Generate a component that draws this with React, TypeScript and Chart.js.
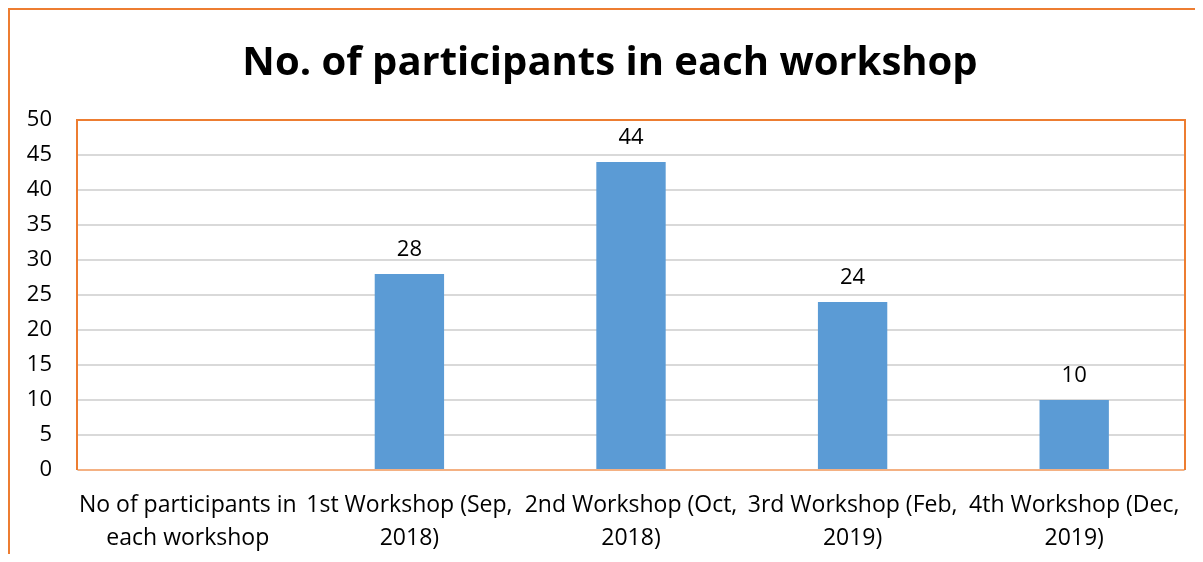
import React, { useEffect, useRef } from "react";
import { Chart, registerables } from "chart.js";

Chart.register(...registerables);

const categories: string[][] = [
  ["No of participants in", "each workshop"],
  ["1st Workshop (Sep,", "2018)"],
  ["2nd Workshop (Oct,", "2018)"],
  ["3rd Workshop (Feb,", "2019)"],
  ["4th Workshop (Dec,", "2019)"],
];
const participants: (number | null)[] = [null, 28, 44, 24, 10];
const titleText = "No. of participants in each workshop";

const ORANGE = "#ED7D31";
const BAR = "#5B9BD5";
const FONT = "'Open Sans', Lato, sans-serif";

const decorPlugin = {
  id: "decor",
  afterDraw(chart: any) {
    const { ctx, chartArea } = chart;
    const { left, top, right, bottom } = chartArea;
    ctx.save();
    ctx.strokeStyle = ORANGE;
    ctx.lineWidth = 2;
    ctx.beginPath();
    ctx.moveTo(1, chart.height);
    ctx.lineTo(1, 1);
    ctx.lineTo(chart.width, 1);
    ctx.stroke();
    ctx.beginPath();
    ctx.moveTo(left, bottom);
    ctx.lineTo(left, top);
    ctx.lineTo(right, top);
    ctx.lineTo(right, bottom);
    ctx.stroke();
    ctx.strokeStyle = "#F4B183";
    ctx.beginPath();
    ctx.moveTo(left + 1, bottom);
    ctx.lineTo(right - 1, bottom);
    ctx.stroke();
    // title
    ctx.fillStyle = "#000";
    ctx.font = `bold 40px ${FONT}`;
    ctx.textAlign = "center";
    ctx.textBaseline = "alphabetic";
    ctx.fillText(titleText, 602, 67);
    // data labels
    ctx.font = `22px ${FONT}`;
    const meta = chart.getDatasetMeta(0);
    meta.data.forEach((bar: any, i: number) => {
      const v = participants[i];
      if (v === null || v === undefined) return;
      ctx.fillText(String(v), bar.x, bar.y - 18);
    });
    ctx.restore();
  },
};

export default function App() {
  const ref = useRef<HTMLCanvasElement | null>(null);
  useEffect(() => {
    if (!ref.current) return;
    const chart = new Chart(ref.current, {
      type: "bar",
      data: {
        labels: categories,
        datasets: [
          {
            data: participants,
            backgroundColor: BAR,
            barPercentage: 0.313,
            categoryPercentage: 1,
          },
        ],
      },
      options: {
        responsive: false,
        animation: false,
        layout: { padding: { left: 0, right: 10, top: 112, bottom: 0 } },
        plugins: {
          legend: { display: false },
          tooltip: { enabled: false },
          title: { display: false },
        },
        scales: {
          x: {
            grid: { display: false },
            border: { display: false },
            ticks: {
              color: "#000",
              font: { family: FONT, size: 23, lineHeight: 1.43 },
              padding: 11,
              maxRotation: 0,
              minRotation: 0,
              autoSkip: false,
            },
            afterFit(scale: any) {
              scale.height = 84;
            },
          },
          y: {
            min: 0,
            max: 50,
            ticks: {
              stepSize: 5,
              color: "#000",
              font: { family: FONT, size: 22 },
              padding: 25,
            },
            grid: { color: "#D9D9D9", lineWidth: 2, drawTicks: false },
            border: { display: false },
            afterFit(scale: any) {
              scale.width = 69;
            },
          },
        },
      },
      plugins: [decorPlugin],
    });
    return () => chart.destroy();
  }, []);
  return <canvas ref={ref} width={1187} height={546} style={{ display: "block" }} />;
}
